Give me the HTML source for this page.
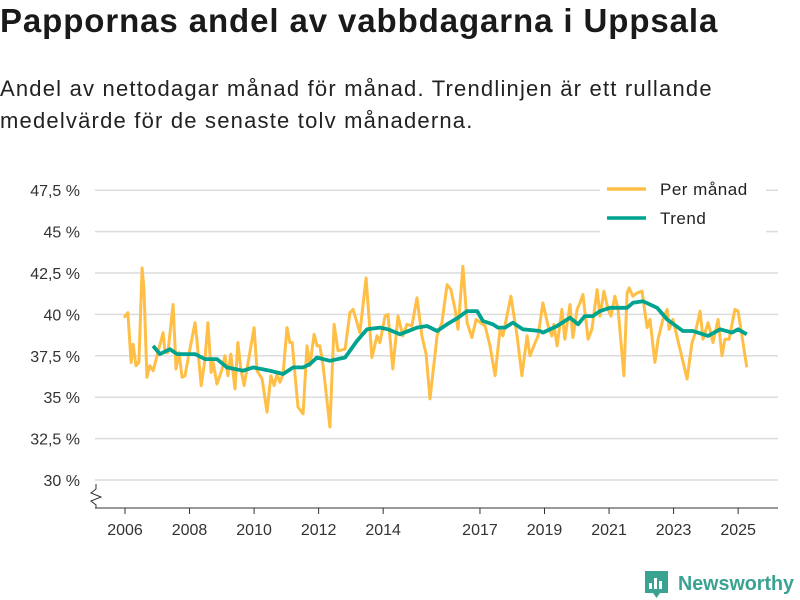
<!DOCTYPE html>
<html><head><meta charset="utf-8">
<style>
body{margin:0;background:#fff;font-family:"Liberation Sans",sans-serif;color:#222;}
#wrap{position:relative;width:800px;height:600px;overflow:hidden;}
h1{position:absolute;left:0;top:2px;margin:0;font-size:33px;letter-spacing:0.9px;font-weight:bold;color:#1a1a1a;white-space:nowrap;}
p.sub{position:absolute;left:0;top:73px;margin:0;font-size:22px;letter-spacing:1.2px;line-height:32px;color:#222;width:800px;white-space:nowrap;}
</style></head>
<body><div id="wrap">
<h1>Pappornas andel av vabbdagarna i Uppsala</h1>
<p class="sub">Andel av nettodagar månad för månad. Trendlinjen är ett rullande<br>medelvärde för de senaste tolv månaderna.</p>
<svg id="chart" width="800" height="600" style="position:absolute;left:0;top:0"></svg>
</div>
<script>
const yTicks=[30,32.5,35,37.5,40,42.5,45,47.5];
const yTickLabels=["30 %","32,5 %","35 %","37,5 %","40 %","42,5 %","45 %","47,5 %"];
const xTicks=[2006,2008,2010,2012,2014,2017,2019,2021,2023,2025];
const monthDates=[2005.97,2006.09,2006.19,2006.25,2006.34,2006.43,2006.53,2006.59,2006.68,2006.77,2006.87,2007.18,2007.24,2007.33,2007.49,2007.58,2007.67,2007.77,2007.86,2008.01,2008.17,2008.23,2008.36,2008.48,2008.57,2008.67,2008.73,2008.85,2009.01,2009.10,2009.19,2009.28,2009.41,2009.50,2009.59,2009.69,2009.78,2010.00,2010.09,2010.25,2010.40,2010.52,2010.62,2010.71,2010.80,2010.90,2011.02,2011.11,2011.18,2011.27,2011.36,2011.52,2011.64,2011.73,2011.86,2011.95,2012.04,2012.14,2012.35,2012.48,2012.60,2012.82,2012.97,2013.07,2013.28,2013.47,2013.65,2013.81,2013.90,2014.06,2014.15,2014.30,2014.46,2014.61,2014.74,2014.89,2015.05,2015.20,2015.33,2015.45,2015.67,2015.82,2015.98,2016.10,2016.23,2016.32,2016.47,2016.60,2016.75,2016.88,2017.16,2017.31,2017.47,2017.62,2017.71,2017.96,2018.15,2018.30,2018.46,2018.55,2018.71,2018.80,2018.95,2019.11,2019.23,2019.29,2019.39,2019.54,2019.63,2019.79,2019.88,2020.01,2020.10,2020.19,2020.35,2020.47,2020.63,2020.72,2020.84,2020.97,2021.06,2021.18,2021.28,2021.46,2021.56,2021.62,2021.74,2021.87,2022.02,2022.18,2022.27,2022.42,2022.52,2022.67,2022.80,2022.86,2022.98,2023.20,2023.42,2023.57,2023.66,2023.82,2023.91,2024.07,2024.22,2024.38,2024.50,2024.59,2024.72,2024.90,2025.00,2025.27];
const monthValues=[39.8,40.1,37.1,38.2,36.9,37.1,42.8,41.5,36.2,36.9,36.6,38.9,37.7,37.7,40.6,36.7,37.7,36.2,36.3,37.9,39.5,38.4,35.7,37.3,39.5,36.5,37.1,35.8,36.7,37.5,36.3,37.6,35.5,38.3,36.7,35.7,36.7,39.2,36.6,36.1,34.1,36.3,35.7,36.4,35.9,36.4,39.2,38.3,38.3,36.3,34.4,34.0,38.1,36.9,38.8,38.1,38.1,36.9,33.2,39.4,37.8,37.9,40.1,40.3,38.9,42.2,37.4,38.7,38.3,39.9,40.0,36.7,39.9,38.7,39.4,39.3,41.0,38.7,37.6,34.9,38.7,39.5,41.8,41.5,40.3,39.1,42.9,39.5,38.6,39.7,39.3,38.1,36.3,39.1,38.7,41.1,38.7,36.3,38.7,37.5,38.3,38.7,40.7,39.3,38.7,39.4,38.1,40.3,38.5,40.6,38.6,40.3,40.7,41.2,38.5,39.1,41.5,39.9,41.4,40.3,39.9,41.1,40.3,36.3,41.3,41.6,41.1,41.3,41.4,39.2,39.7,37.1,38.5,39.7,40.3,39.1,39.7,37.9,36.1,38.3,38.8,40.2,38.5,39.5,38.3,39.7,37.5,38.5,38.5,40.3,40.2,36.8];
const trendDates=[2006.87,2007.08,2007.39,2007.61,2008.17,2008.48,2008.85,2009.16,2009.66,2009.97,2010.49,2010.90,2011.21,2011.52,2011.73,2011.95,2012.35,2012.82,2013.19,2013.50,2013.90,2014.15,2014.52,2015.05,2015.36,2015.67,2015.98,2016.32,2016.60,2016.91,2017.09,2017.40,2017.56,2017.78,2018.02,2018.33,2018.86,2018.95,2019.39,2019.79,2020.04,2020.25,2020.50,2020.72,2021.03,2021.56,2021.74,2022.05,2022.49,2022.80,2023.29,2023.60,2024.07,2024.44,2024.81,2025.00,2025.27];
const trendValues=[38.1,37.6,37.9,37.6,37.6,37.3,37.3,36.8,36.6,36.8,36.6,36.4,36.8,36.8,37.0,37.4,37.2,37.4,38.4,39.1,39.2,39.1,38.8,39.2,39.3,39.0,39.4,39.8,40.2,40.2,39.6,39.4,39.2,39.2,39.5,39.1,39.0,38.9,39.3,39.8,39.4,39.9,39.9,40.2,40.4,40.4,40.7,40.8,40.4,39.7,39.0,39.0,38.7,39.1,38.9,39.1,38.8];

const NS="http://www.w3.org/2000/svg";
const svg=document.getElementById('chart');
const X0=95,X1=778;
function xs(yr){return 125+(yr-2006)*32.27;}
function ys(v){return 480-(v-30)*16.56;}
function mk(t,a,p){const e=document.createElementNS(NS,t);for(const k in a)e.setAttribute(k,a[k]);(p||svg).appendChild(e);return e;}

const grid=mk('g',{});


yTicks.forEach((t,i)=>{
  const l=mk('line',{x1:X0,x2:X1,y1:ys(t),y2:ys(t),stroke:'#dcdcdc','stroke-width':1.5},grid);
  
  
  const tx=mk('text',{x:80,y:ys(t)+6,'text-anchor':'end','font-size':16,fill:'#333','font-family':'Liberation Sans, sans-serif'});
  tx.textContent=yTickLabels[i];
  
  
});
const ax=mk('line',{x1:X0,x2:X1,y1:508,y2:508,stroke:'#333','stroke-width':1});


const brk=mk('path',{d:'M96 484 L96 489 L91 493 L101 497 L91 501 L96 505 L96 508',fill:'none',stroke:'#333','stroke-width':1});


xTicks.forEach(t=>{
  const l=mk('line',{x1:xs(t),x2:xs(t),y1:508,y2:514,stroke:'#333','stroke-width':1});
  
  
  const tx=mk('text',{x:xs(t),y:535,'text-anchor':'middle','font-size':16,fill:'#333','font-family':'Liberation Sans, sans-serif'});
  tx.textContent=t;
  
  
});
function pts(d,v){return d.map((x,i)=>xs(x).toFixed(1)+','+ys(v[i]).toFixed(1)).join(' ');}
const m=mk('polyline',{points:pts(monthDates,monthValues),fill:'none',stroke:'#ffbf47','stroke-width':3,'stroke-linejoin':'round'});


const tr=mk('polyline',{points:pts(trendDates,trendValues),fill:'none',stroke:'#00a390','stroke-width':3.8,'stroke-linejoin':'round'});


const lg=mk('g',{});


mk('rect',{x:600,y:174,width:166,height:60,fill:'#fff'},lg);
const e1=mk('g',{},lg);


mk('line',{x1:607,x2:646,y1:189,y2:189,stroke:'#ffbf47','stroke-width':3.5},e1);
const t1=mk('text',{x:660,y:195,'font-size':17,'letter-spacing':0.5,fill:'#222','font-family':'Liberation Sans, sans-serif'},e1);t1.textContent='Per månad';
const e2=mk('g',{},lg);


mk('line',{x1:607,x2:646,y1:218,y2:218,stroke:'#00a390','stroke-width':3.5},e2);
const t2=mk('text',{x:660,y:224,'font-size':17,'letter-spacing':0.5,fill:'#222','font-family':'Liberation Sans, sans-serif'},e2);t2.textContent='Trend';
const lo=mk('g',{});


mk('path',{d:'M645 571 h23 v22 h-8 l-3.5 5 l-3.5 -5 h-8 z',fill:'#3aa291'},lo);
mk('rect',{x:649,y:583,width:3,height:6,fill:'#fff'},lo);
mk('rect',{x:654,y:578,width:3,height:11,fill:'#fff'},lo);
mk('rect',{x:659,y:581,width:3,height:8,fill:'#fff'},lo);
const lt=mk('text',{x:678,y:590,'font-size':20,'font-weight':'bold',fill:'#3aa291','font-family':'Liberation Sans, sans-serif',textLength:116,lengthAdjust:'spacingAndGlyphs'},lo);lt.textContent='Newsworthy';
</script>
</body></html>
